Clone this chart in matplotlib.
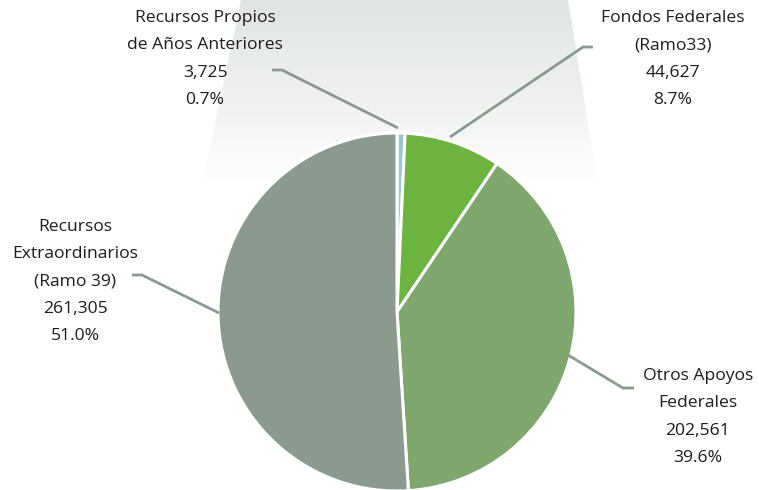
import numpy as np
import matplotlib.pyplot as plt
from matplotlib.patches import Polygon

# data
labels = [["Recursos Propios", "de Años Anteriores"],
          ["Fondos Federales", "(Ramo33)"],
          ["Otros Apoyos", "Federales"],
          ["Recursos", "Extraordinarios", "(Ramo 39)"]]
values = [3725, 44627, 202561, 261305]
pct_labels = ["0.7%", "8.7%", "39.6%", "51.0%"]  # as printed in the source
colors = ["#9fc6cc", "#6db33f", "#7fa66c", "#8a9a8f"]

W, H = 759, 490
fig = plt.figure(figsize=(W / 100, H / 100), dpi=100)
ax = fig.add_axes([0, 0, 1, 1])

def py(y):  # pixel y (top-down) -> data y
    return H - y

# faded trapezoid behind the pie
trap = Polygon([(241, py(0)), (568, py(0)), (598, py(185)), (202, py(185))],
               closed=True, facecolor="none", edgecolor="none")
ax.add_patch(trap)
grad = np.linspace(0, 1, 256).reshape(-1, 1)
top = np.array([0.88, 0.90, 0.89])
img = top + (1 - top) * grad[..., None] ** 1.2
img = np.clip(img, 0, 1)
im = ax.imshow(img, extent=[202, 598, py(185), py(0)], aspect="auto", zorder=0)
im.set_clip_path(trap)

# pie
cx, cy, r = 397, 312, 179
ax.pie(values, colors=colors, startangle=90, counterclock=False,
       center=(cx, py(cy)), radius=r, frame=True,
       wedgeprops=dict(edgecolor="white", linewidth=2.2))
ax.set_xlim(0, W)
ax.set_ylim(0, H)
ax.set_aspect("equal")
ax.axis("off")

# label blocks: center x, first line y, line step (pixels)
label_pos = [(205, 18), (673, 18), (698, 376), (75, 227)]
step = 27.3
font = dict(family="Open Sans", fontsize=12.6, color="#1e1b1c")
for lab, v, p, (x, y0) in zip(labels, values, pct_labels, label_pos):
    lines = lab + [f"{v:,}", p]
    for i, t in enumerate(lines):
        ax.text(x, py(y0 + i * step), t, ha="center", va="center", **font)

# leader lines
leaders = [[(272, 70), (282, 70), (398, 128)],
           [(593, 47), (583, 47), (450, 137)],
           [(634, 388), (623, 388), (568, 355)],
           [(132, 275), (142, 275), (219, 313)]]
for pts in leaders:
    xs = [p[0] for p in pts]
    ys = [py(p[1]) for p in pts]
    ax.plot(xs, ys, color="#8a9a8f", lw=2, solid_capstyle="butt", zorder=3)

fig.savefig("out.png", dpi=100)
